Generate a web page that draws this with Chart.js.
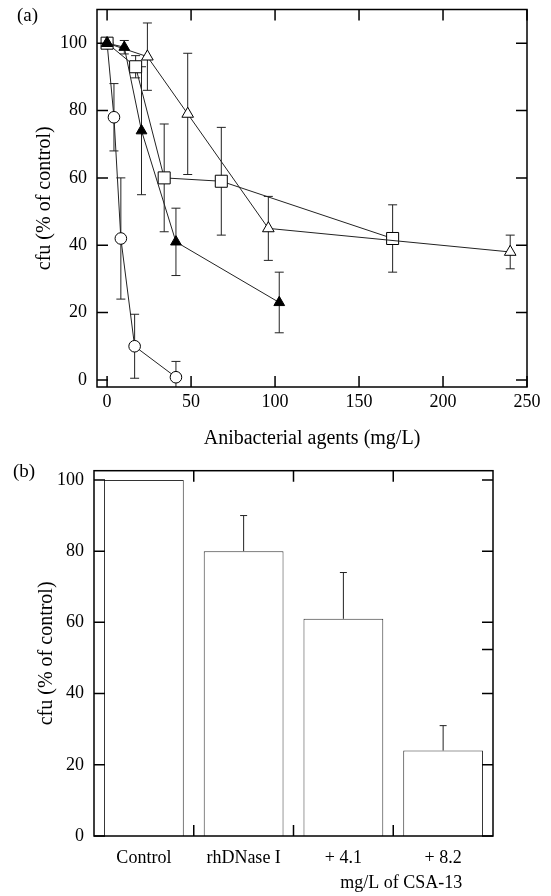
<!DOCTYPE html>
<html>
<head>
<meta charset="utf-8">
<script src="https://cdn.jsdelivr.net/npm/chart.js@4.4.1/dist/chart.umd.min.js"></script>
<style>
    html, body { margin: 0; padding: 0; background: #fff; }
    #wrap { position: relative; width: 551px; height: 896px; font-family: 'Liberation Serif', 'Times New Roman', serif; color: #000; }
    #chart-a { position: absolute; left: 0; top: 0; }
    #chart-b { position: absolute; left: 0; top: 460px; }
    .panel-label { position: absolute; font-size: 19px; line-height: 20px; }
</style>
</head>
<body>
<div id="wrap">
    <canvas id="chart-a" width="551" height="460"></canvas>
    <canvas id="chart-b" width="551" height="436"></canvas>
    <div class="panel-label" style="left:17px;top:5px">(a)</div>
    <div class="panel-label" style="left:13px;top:461px">(b)</div>
</div>
<script>
// (a) dose response, concentrations in mg/L, cfu in % of control
const filledX = [0, 10.25, 20.5, 41, 102.5];
const filledY = [100, 98.8, 74, 41, 23];
const filledErr = [0, 2, 19, 10, 9];

const circleX = [0, 4.1, 8.2, 16.4, 41];
const circleY = [100, 78, 42, 10, 0.8];
const circleErr = [0, 10, 18, 9.5, 4.7];

const squareX = [0, 17, 34, 68, 170];
const squareY = [100, 93, 60, 59, 42];
const squareErr = [0, 3.3, 16, 16, 10];

const openTriX = [0, 24, 48, 96, 240];
const openTriY = [100, 96, 79, 45, 38];
const openTriErr = [0, 10, 18, 9.5, 5];

const doseTicks = [0, 50, 100, 150, 200, 250];
const cfuTicksA = [0, 20, 40, 60, 80, 100];

// (b) rhDNase I alone and combined with CSA-13
const treatments = ['Control', 'rhDNase I', '+ 4.1', '+ 8.2'];
const treatmentCfu = [100, 80, 61, 24];
const treatmentErr = [0, 10, 13, 7];
const cfuTicksB = [0, 20, 40, 60, 80, 100];
const extraRightTicksB = [52.4];

const serif = "'Liberation Serif', 'Times New Roman', serif";
Chart.defaults.font.family = serif;
Chart.defaults.font.size = 18;
Chart.defaults.color = '#000';

function toPoints(xs, ys) {
    return xs.map((x, i) => ({x: x, y: ys[i]}));
}

function fixedTicks(values) {
    return function (scale) {
        scale.ticks = values.map(v => ({value: v}));
    };
}

// fixed axis box size, and no extra room reserved for end labels
function fixedHeight(h) {
    return function (s) {
        s.height = h;
        s.paddingLeft = 0;
        s.paddingRight = 0;
    };
}

function fixedWidth(w) {
    return function (s) {
        s.width = w;
        s.paddingTop = 0;
        s.paddingBottom = 0;
    };
}

// box around the plot area with inward tick marks on all four sides
const frameTicks = {
    id: 'frameTicks',
    afterDraw(chart, args, opts) {
        const {ctx, chartArea: a} = chart;
        const xs = chart.scales.x;
        const ys = chart.scales.y;
        const len = opts.length || 10;
        const xMarks = opts.xMarks || xs.ticks.map(t => t.value);

        ctx.save();
        ctx.strokeStyle = '#000';
        ctx.lineWidth = 1.5;
        ctx.strokeRect(a.left, a.top, a.right - a.left, a.bottom - a.top);

        ctx.beginPath();
        xMarks.forEach(v => {
            const px = xs.getPixelForValue(v);
            ctx.moveTo(px, a.bottom);
            ctx.lineTo(px, a.bottom - len);
            ctx.moveTo(px, a.top);
            ctx.lineTo(px, a.top + len);
        });
        ys.ticks.forEach(t => {
            const py = ys.getPixelForValue(t.value);
            ctx.moveTo(a.left, py);
            ctx.lineTo(a.left + len, py);
            ctx.moveTo(a.right, py);
            ctx.lineTo(a.right - len, py);
        });
        (opts.extraRight || []).forEach(v => {
            const py = ys.getPixelForValue(v);
            ctx.moveTo(a.right, py);
            ctx.lineTo(a.right - len, py);
        });
        ctx.stroke();
        ctx.restore();
    }
};

// vertical error bars read from dataset.errors
const errorBars = {
    id: 'errorBars',
    beforeDatasetsDraw(chart, args, opts) {
        const {ctx, chartArea: a} = chart;
        const ys = chart.scales.y;
        const cap = opts.cap || 4;

        ctx.save();
        ctx.beginPath();
        ctx.rect(a.left, a.top, a.right - a.left, a.bottom - a.top);
        ctx.clip();
        ctx.strokeStyle = opts.color || '#222';
        ctx.lineWidth = 1;

        chart.data.datasets.forEach((ds, i) => {
            if (!ds.errors) return;
            const meta = chart.getDatasetMeta(i);
            meta.data.forEach((el, j) => {
                const err = ds.errors[j];
                if (!err) return;
                const value = typeof ds.data[j] === 'object' ? ds.data[j].y : ds.data[j];
                const top = ys.getPixelForValue(value + err);
                const bottom = opts.upOnly ? ys.getPixelForValue(value) : ys.getPixelForValue(value - err);
                ctx.beginPath();
                ctx.moveTo(el.x, top);
                ctx.lineTo(el.x, bottom);
                ctx.moveTo(el.x - cap, top);
                ctx.lineTo(el.x + cap, top);
                if (!opts.upOnly) {
                    ctx.moveTo(el.x - cap, bottom);
                    ctx.lineTo(el.x + cap, bottom);
                }
                ctx.stroke();
            });
        });
        ctx.restore();
    }
};

// shared second line under the two CSA-13 categories
const groupNote = {
    id: 'groupNote',
    afterDraw(chart, args, opts) {
        if (!opts.text) return;
        const {ctx, chartArea: a} = chart;
        const xs = chart.scales.x;
        ctx.save();
        ctx.font = '18px ' + serif;
        ctx.fillStyle = '#000';
        ctx.textAlign = 'center';
        ctx.textBaseline = 'middle';
        ctx.fillText(opts.text, xs.getPixelForValue(opts.at) + opts.shift, a.bottom + opts.dy);
        ctx.restore();
    }
};

const seriesLine = {
    borderColor: '#222',
    borderWidth: 1,
    pointBorderColor: '#000',
    pointBorderWidth: 1,
    tension: 0
};

const chartA = new Chart(
    document.getElementById('chart-a'),
    {
        type: 'line',
        data: {
            datasets: [
                Object.assign({}, seriesLine, {
                    label: 'filled triangles',
                    data: toPoints(filledX, filledY),
                    errors: filledErr,
                    pointStyle: 'triangle',
                    pointRadius: 6.2,
                    pointBackgroundColor: '#000'
                }),
                Object.assign({}, seriesLine, {
                    label: 'open triangles',
                    data: toPoints(openTriX, openTriY),
                    errors: openTriErr,
                    pointStyle: 'triangle',
                    pointRadius: 6.7,
                    pointBackgroundColor: '#fff'
                }),
                Object.assign({}, seriesLine, {
                    label: 'squares',
                    data: toPoints(squareX, squareY),
                    errors: squareErr,
                    pointStyle: 'rect',
                    pointRadius: 8.5,
                    pointBackgroundColor: '#fff'
                }),
                Object.assign({}, seriesLine, {
                    label: 'circles',
                    data: toPoints(circleX, circleY),
                    errors: circleErr,
                    pointStyle: 'circle',
                    pointRadius: 5.8,
                    pointBackgroundColor: '#fff'
                })
            ]
        },
        options: {
            responsive: false,
            animation: false,
            events: [],
            layout: {padding: {top: 7, right: 24, left: 0, bottom: 0}},
            plugins: {
                legend: {display: false},
                tooltip: {enabled: false},
                frameTicks: {length: 11},
                errorBars: {cap: 4.5}
            },
            scales: {
                x: {
                    type: 'linear',
                    min: -6,
                    max: 250,
                    afterBuildTicks: fixedTicks(doseTicks),
                    afterFit: fixedHeight(73),
                    grid: {display: false, drawTicks: false},
                    border: {display: false},
                    ticks: {padding: 4, maxRotation: 0},
                    title: {display: true, text: 'Anibacterial agents (mg/L)', font: {size: 20}, padding: {top: 0, bottom: 9}}
                },
                y: {
                    min: -2.1,
                    max: 110,
                    afterBuildTicks: fixedTicks(cfuTicksA),
                    afterFit: fixedWidth(97),
                    grid: {display: false, drawTicks: false},
                    border: {display: false},
                    ticks: {padding: 10},
                    title: {display: true, text: 'cfu (% of control)', font: {size: 20}, padding: {top: 33, bottom: 0}}
                }
            }
        },
        plugins: [errorBars, frameTicks]
    }
);

const chartB = new Chart(
    document.getElementById('chart-b'),
    {
        type: 'bar',
        data: {
            labels: treatments,
            datasets: [{
                label: 'cfu',
                data: treatmentCfu,
                errors: treatmentErr,
                backgroundColor: '#fff',
                borderColor: '#333',
                borderWidth: 1,
                categoryPercentage: 0.8,
                barPercentage: 1.0
            }]
        },
        options: {
            responsive: false,
            animation: false,
            events: [],
            layout: {padding: {top: 10.7, right: 58, left: 0, bottom: 0}},
            plugins: {
                legend: {display: false},
                tooltip: {enabled: false},
                frameTicks: {length: 11, xMarks: [0.5, 1.5, 2.5], extraRight: extraRightTicksB},
                errorBars: {cap: 3.5, upOnly: true},
                groupNote: {text: 'mg/L of CSA-13', at: 2.5, shift: 8, dy: 47}
            },
            scales: {
                x: {
                    afterFit: fixedHeight(60),
                    grid: {display: false, drawTicks: false},
                    border: {display: false},
                    ticks: {padding: 11, maxRotation: 0}
                },
                y: {
                    min: 0,
                    max: 102.6,
                    afterBuildTicks: fixedTicks(cfuTicksB),
                    afterFit: fixedWidth(94),
                    grid: {display: false, drawTicks: false},
                    border: {display: false},
                    ticks: {padding: 10},
                    title: {display: true, text: 'cfu (% of control)', font: {size: 20}, padding: {top: 34.7, bottom: 0}}
                }
            }
        },
        plugins: [errorBars, frameTicks, groupNote]
    }
);
</script>
</body>
</html>
